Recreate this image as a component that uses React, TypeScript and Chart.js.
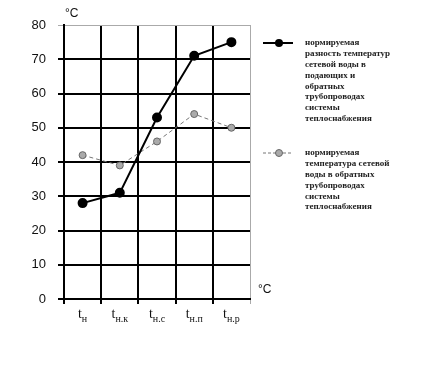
import { useEffect, useRef } from 'react';
import { Chart, registerables } from 'chart.js';
Chart.register(...registerables);

const labelBase = ['t', 't', 't', 't', 't'];
const labelSub = ['н', 'н.к', 'н.с', 'н.п', 'н.р'];
const categories = labelBase.map((b, i) => b + labelSub[i]);
const seriesDelta = [28, 31, 53, 71, 75];
const seriesReturn = [42, 39, 46, 54, 50];
const yTicks = [0, 10, 20, 30, 40, 50, 60, 70, 80];
const legend1 = ['нормируемая', 'разность температур', 'сетевой воды в', 'подающих и', 'обратных', 'трубопроводах', 'системы', 'теплоснабжения'];
const legend2 = ['нормируемая', 'температура сетевой', 'воды в обратных', 'трубопроводах', 'системы', 'теплоснабжения'];
const unit = '°C';

const overlay = {
  id: 'overlay',
  afterDraw(chart: any) {
    const ctx = chart.ctx;
    const xs = chart.scales.x;
    const ca = chart.chartArea;
    ctx.save();
    ctx.fillStyle = '#111';
    labelBase.forEach((b, i) => {
      const x = xs.getPixelForValue(i);
      ctx.font = '14px "Liberation Serif"';
      const w1 = ctx.measureText(b).width;
      ctx.font = '10px "Liberation Serif"';
      const w2 = ctx.measureText(labelSub[i]).width;
      const x0 = x - (w1 + w2) / 2;
      ctx.textAlign = 'left';
      ctx.textBaseline = 'alphabetic';
      ctx.font = '14px "Liberation Serif"';
      ctx.fillText(b, x0, 318);
      ctx.font = '10px "Liberation Serif"';
      ctx.fillText(labelSub[i], x0 + w1, 322);
    });
    ctx.font = '12px "Liberation Sans"';
    ctx.textAlign = 'left';
    ctx.textBaseline = 'middle';
    ctx.fillText(unit, ca.left + 1, 14);
    ctx.fillText(unit, ca.right + 8, 290);
    const drawText = (lines: string[], y0: number) => {
      ctx.font = 'bold 9px "Liberation Serif"';
      ctx.fillStyle = '#222';
      ctx.textAlign = 'left';
      ctx.textBaseline = 'middle';
      lines.forEach((l, k) => ctx.fillText(l, 305, y0 + k * 10.8));
    };
    ctx.strokeStyle = '#000';
    ctx.lineWidth = 2;
    ctx.setLineDash([]);
    ctx.beginPath();
    ctx.moveTo(263, 43);
    ctx.lineTo(293, 43);
    ctx.stroke();
    ctx.fillStyle = '#000';
    ctx.beginPath();
    ctx.arc(279, 43, 4, 0, Math.PI * 2);
    ctx.fill();
    drawText(legend1, 43);
    ctx.strokeStyle = '#777';
    ctx.lineWidth = 1;
    ctx.setLineDash([3, 2]);
    ctx.beginPath();
    ctx.moveTo(263, 153);
    ctx.lineTo(293, 153);
    ctx.stroke();
    ctx.setLineDash([]);
    ctx.fillStyle = '#aaa';
    ctx.strokeStyle = '#666';
    ctx.beginPath();
    ctx.arc(279, 153, 3.5, 0, Math.PI * 2);
    ctx.fill();
    ctx.stroke();
    drawText(legend2, 153);
    ctx.restore();
  },
};

export default function App() {
  const ref = useRef<HTMLCanvasElement | null>(null);
  useEffect(() => {
    if (!ref.current) return;
    const chart = new Chart(ref.current, {
      type: 'line',
      data: {
        labels: categories,
        datasets: [
          {
            label: legend1.join(' '),
            data: seriesDelta,
            borderColor: '#000',
            backgroundColor: '#000',
            borderWidth: 2,
            pointRadius: 4,
            pointBackgroundColor: '#000',
            pointBorderColor: '#000',
            tension: 0,
          },
          {
            label: legend2.join(' '),
            data: seriesReturn,
            borderColor: '#777',
            backgroundColor: '#aaa',
            borderWidth: 1,
            borderDash: [4, 3],
            pointRadius: 3.5,
            pointBackgroundColor: '#aaa',
            pointBorderColor: '#666',
            pointBorderWidth: 1,
            tension: 0,
          },
        ],
      },
      options: {
        animation: false,
        responsive: true,
        maintainAspectRatio: false,
        layout: { padding: { left: 0, top: 25, right: 178, bottom: 0 } },
        plugins: { legend: { display: false }, tooltip: { enabled: false } },
        scales: {
          x: {
            type: 'category',
            offset: true,
            grid: {
              offset: true,
              color: (c: any) => (c.tick ? '#000' : '#aaa'),
              lineWidth: (c: any) => (c.tick ? 2 : 1),
              tickLength: 5,
            },
            border: { color: '#000', width: 2 },
            ticks: { color: 'rgba(0,0,0,0)', font: { size: 12 } },
            afterFit: (s: any) => { s.height = 69; },
          },
          y: {
            min: 0,
            max: 80,
            afterBuildTicks: (s: any) => { s.ticks = yTicks.map((v) => ({ value: v })); },
            grid: {
              color: (c: any) => (c.tick && c.tick.value === 80 ? '#aaa' : '#000'),
              lineWidth: (c: any) => (c.tick && c.tick.value === 80 ? 1 : 2),
              tickLength: 6,
            },
            border: { color: '#000', width: 2 },
            ticks: {
              color: '#111',
              padding: 12,
              font: { family: '"Liberation Sans"', size: 13 },
            },
            afterFit: (s: any) => { s.width = 64; },
          },
        },
      },
      plugins: [overlay],
    });
    return () => chart.destroy();
  }, []);
  return (
    <div style={{ position: 'absolute', left: 0, top: 0, width: 428, height: 368, background: '#fff' }}>
      <canvas ref={ref} />
    </div>
  );
}
